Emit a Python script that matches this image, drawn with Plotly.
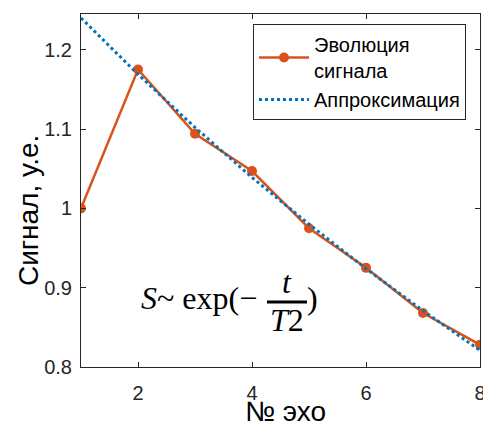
import plotly.graph_objects as go

echo = [1, 2, 3, 4, 5, 6, 7, 8]
signal = [1.000, 1.175, 1.094, 1.047, 0.975, 0.925, 0.868, 0.828]
fit = [1.240, 1.169, 1.102, 1.039, 0.980, 0.924, 0.871, 0.821]
x_ticks = [2, 4, 6, 8]
y_ticks = [0.8, 0.9, 1.0, 1.1, 1.2]
y_tick_text = ["0.8", "0.9", "1", "1.1", "1.2"]

ORANGE = "#D95319"
BLUE = "#0072BD"
AX = "#262626"
SANS = "Liberation Sans, Arial, sans-serif"
SERIF = "Liberation Serif, DejaVu Serif, serif"

W, H = 483, 425
L, R, T, B = 81, 3, 14, 58
PW, PH = W - L - R, H - T - B


def px(xpix):
    return (xpix - L) / PW


def py(ypix):
    return 1 - (ypix - T) / PH


fig = go.Figure()
fig.add_trace(go.Scatter(x=echo, y=signal, mode="lines+markers", name="Эволюция<br>сигнала",
                         line=dict(color=ORANGE, width=2.5),
                         marker=dict(color=ORANGE, size=10)))
fig.add_trace(go.Scatter(x=echo, y=fit, mode="lines", name="Аппроксимация",
                         line=dict(color=BLUE, width=3, dash="dot")))

axis_common = dict(showline=True, linecolor=AX, linewidth=1, mirror="ticks", ticks="inside",
                   ticklen=5, tickcolor=AX, showgrid=False, zeroline=False, automargin=False,
                   tickfont=dict(family=SANS, size=20, color=AX))
fig.update_xaxes(range=[1, 8], tickvals=x_ticks, ticktext=[str(v) for v in x_ticks],
                 ticklabeloverflow="allow", ticklabelstandoff=8, **axis_common)
fig.update_yaxes(range=[0.8, 1.245], tickvals=y_ticks, ticktext=y_tick_text,
                 ticklabelstandoff=4, **axis_common)

# axis titles
fig.add_annotation(text="Сигнал, у.е.", xref="paper", yref="paper", x=px(28), y=py(211),
                   xanchor="center", yanchor="middle", textangle=-90, showarrow=False,
                   font=dict(family=SANS, size=28, color="black"))
fig.add_annotation(text="№ эхо", xref="paper", yref="paper", x=px(285), y=py(411),
                   xanchor="center", yanchor="middle", showarrow=False,
                   font=dict(family=SANS, size=28, color="black"))

# formula S ~ exp(-t/T2)
fs = 32
ff = dict(family=SERIF, size=fs, color="black")
fig.add_annotation(text="<i>S</i>~ exp(−", xref="paper", yref="paper", x=px(139), y=py(298),
                   xanchor="left", yanchor="middle", showarrow=False, font=ff)
fig.add_annotation(text="<i>t</i>", xref="paper", yref="paper", x=px(287), y=py(282),
                   xanchor="center", yanchor="middle", showarrow=False, font=ff)
fig.add_annotation(text="<i>T</i>2", xref="paper", yref="paper", x=px(287), y=py(320),
                   xanchor="center", yanchor="middle", showarrow=False, font=ff)
fig.add_annotation(text=")", xref="paper", yref="paper", x=px(305), y=py(298),
                   xanchor="left", yanchor="middle", showarrow=False, font=ff)
fig.add_shape(type="line", xref="paper", yref="paper", x0=px(267), x1=px(307),
              y0=py(302), y1=py(302), line=dict(color="black", width=3))

fig.update_layout(
    width=W, height=H,
    margin=dict(l=L, r=R, t=T, b=B, autoexpand=False),
    paper_bgcolor="white", plot_bgcolor="white",
    font=dict(family=SANS, color=AX),
    legend=dict(x=px(253), y=py(24), xanchor="left", yanchor="top",
                bgcolor="white", bordercolor=AX, borderwidth=1,
                font=dict(family=SANS, size=20, color="black"),
                tracegroupgap=0, itemwidth=50),
    showlegend=True,
)

fig.write_html("out.html")
